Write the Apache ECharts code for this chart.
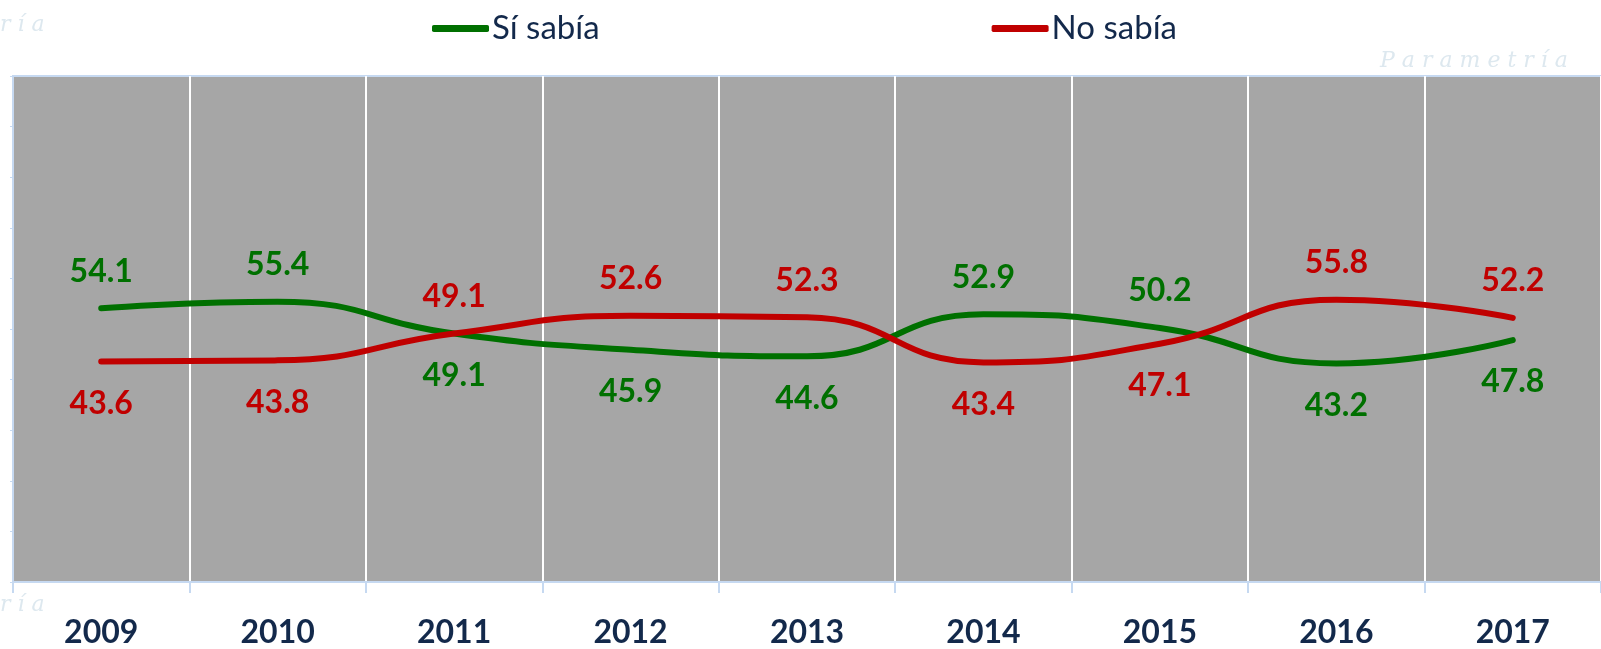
<!DOCTYPE html>
<html>
<head>
<meta charset="utf-8">
<script src="https://cdn.jsdelivr.net/npm/echarts@6/dist/echarts.min.js"></script>
<style>
    html, body { margin: 0; padding: 0; background: #ffffff; }
    #chart { width: 1601px; height: 649px; }
</style>
</head>
<body>
<div id="chart"></div>
<script>
const years = ['2009', '2010', '2011', '2012', '2013', '2014', '2015', '2016', '2017'];
const siSabia = [54.1, 55.4, 49.1, 45.9, 44.6, 52.9, 50.2, 43.2, 47.8];
const noSabia = [43.6, 43.8, 49.1, 52.6, 52.3, 43.4, 47.1, 55.8, 52.2];
const seriesNames = ['Sí sabía', 'No sabía'];

const GREEN = '#007000';
const RED = '#c00000';
const NAVY = '#13294b';
const FAINT = '#dde8ef';

// label above the point for the higher series, below for the lower one
// (2011 is a tie: red goes on top)
function labelled(values, other, onTopWhenTied) {
    return values.map(function (v, i) {
        let above = v > other[i] || (v === other[i] && onTopWhenTied);
        return {
            value: v,
            label: {
                position: above ? 'top' : 'bottom',
                distance: above ? 21 : 26
            }
        };
    });
}

const chart = echarts.init(document.getElementById('chart'));

const option = {
    backgroundColor: '#ffffff',
    animation: false,
    textStyle: { fontFamily: 'Lato' },
    graphic: [
        { type: 'text', left: 1380, top: 50, silent: true,
          style: { text: 'P a r a m e t r í a', fill: FAINT, font: 'italic 22px "DejaVu Serif"' } },
        { type: 'text', left: 0, top: 14, silent: true,
          style: { text: 'r í a', fill: FAINT, font: 'italic 22px "DejaVu Serif"' } },
        { type: 'text', left: 0, top: 594, silent: true,
          style: { text: 'r í a', fill: FAINT, font: 'italic 22px "DejaVu Serif"' } }
    ],
    legend: {
        left: 427,
        top: 7,
        itemGap: 392,
        itemWidth: 57,
        itemHeight: 7,
        icon: 'roundRect',
        textStyle: {
            color: NAVY,
            fontSize: 33,
            fontFamily: 'Lato',
            padding: [0, 0, 0, -2]
        },
        data: seriesNames
    },
    grid: {
        left: 13,
        top: 76,
        right: -9,
        bottom: 64,
        show: true,
        backgroundColor: '#a6a6a6',
        borderColor: '#c6d9f1',
        borderWidth: 2
    },
    xAxis: {
        type: 'category',
        data: years,
        boundaryGap: true,
        axisLine: { lineStyle: { color: '#c6d9f1', width: 2 } },
        axisTick: { show: true, length: 11, lineStyle: { color: '#c6d9f1', width: 2 } },
        splitLine: { show: true, lineStyle: { color: '#ffffff', width: 2 } },
        axisLabel: {
            margin: 35,
            color: NAVY,
            fontSize: 32,
            fontWeight: 'bold',
            fontFamily: 'Lato'
        }
    },
    yAxis: {
        type: 'value',
        min: 0,
        max: 100,
        interval: 10,
        axisLine: { show: true, lineStyle: { color: '#c6d9f1', width: 2 } },
        axisTick: { show: true, length: 3, lineStyle: { color: '#c6d9f1' } },
        axisLabel: { show: false },
        splitLine: { show: false }
    },
    series: [
        {
            name: seriesNames[0],
            type: 'line',
            smooth: 0.5,
            symbol: 'circle',
            symbolSize: 0,
            showSymbol: true,
            lineStyle: { color: GREEN, width: 6, cap: 'round' },
            itemStyle: { color: GREEN },
            label: {
                show: true,
                color: GREEN,
                fontSize: 32,
                fontWeight: 'bold',
                fontFamily: 'Lato'
            },
            data: labelled(siSabia, noSabia, false)
        },
        {
            name: seriesNames[1],
            type: 'line',
            smooth: 0.5,
            symbol: 'circle',
            symbolSize: 0,
            showSymbol: true,
            lineStyle: { color: RED, width: 6, cap: 'round' },
            itemStyle: { color: RED },
            label: {
                show: true,
                color: RED,
                fontSize: 32,
                fontWeight: 'bold',
                fontFamily: 'Lato'
            },
            data: labelled(noSabia, siSabia, true)
        }
    ]
};

chart.setOption(option);
window.onresize = chart.resize;
</script>
</body>
</html>
